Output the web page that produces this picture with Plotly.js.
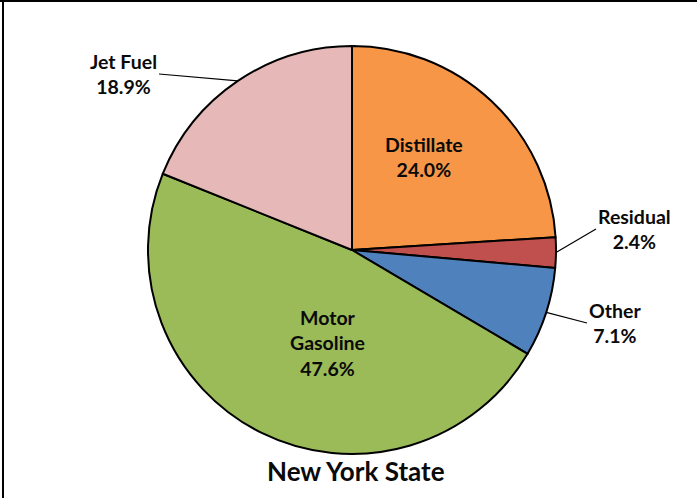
<!DOCTYPE html>
<html>
<head>
<meta charset="utf-8">
<script src="https://cdn.plot.ly/plotly-3.0.1.min.js"></script>
<style>
html,body{margin:0;padding:0;background:#fff;}
#chart{width:697px;height:498px;}
</style>
</head>
<body>
<div id="chart"></div>
<script>
// Data
const categories = ["Distillate", "Residual", "Other", "Motor Gasoline", "Jet Fuel"];
const labelLines = ["Distillate", "Residual", "Other", "Motor<br>Gasoline", "Jet Fuel"];
const shares = [24.0, 2.4, 7.1, 47.6, 18.9];
const colors = ["#F79646", "#C0504D", "#4F81BD", "#9BBB59", "#E6B9B8"];
const chartTitle = "New York State";

// Layout constants (pixels)
const W = 697, H = 498;
const CX = 352, CY = 250, R = 204;

const total = shares.reduce((a, b) => a + b, 0);
function midAngle(i) {
  let start = 0;
  for (let k = 0; k < i; k++) start += shares[k];
  return (start + shares[i] / 2) / total * 2 * Math.PI; // clockwise from top
}
function px(xp) { return xp / W; }
function py(yp) { return 1 - yp / H; }

const font = {family: "Lato, 'Open Sans', sans-serif", size: 19.5, color: "#0a0a0a"};
const annotations = [];

const placement = {
  0: {type: "in", x: 424, y: 157},
  3: {type: "in", x: 327, y: 343},
  1: {type: "out", tx: 596, ty: 229, xanchor: "left"},
  2: {type: "out", tx: 587, ty: 323, xanchor: "left"},
  4: {type: "out", tx: 159, ty: 74, xanchor: "right"}
};

categories.forEach((c, i) => {
  const text = "<b>" + labelLines[i] + "<br>" + shares[i].toFixed(1) + "%</b>";
  const p = placement[i];
  if (p.type === "in") {
    annotations.push({
      xref: "paper", yref: "paper", x: px(p.x), y: py(p.y),
      text: text, showarrow: false, font: font, align: "center",
      xanchor: "center", yanchor: "middle"
    });
  } else {
    const a = midAngle(i);
    const ex = CX + R * Math.sin(a);
    const ey = CY - R * Math.cos(a);
    annotations.push({
      xref: "paper", yref: "paper", x: px(ex), y: py(ey),
      ax: p.tx - ex, ay: p.ty - ey,
      text: text, showarrow: true, arrowhead: 0, arrowwidth: 1.2,
      arrowcolor: "#000", standoff: 0, startstandoff: 0,
      font: font, align: "center", xanchor: p.xanchor, yanchor: "middle"
    });
  }
});

annotations.push({
  xref: "paper", yref: "paper", x: px(356), y: py(471),
  text: "<b>" + chartTitle + "</b>", showarrow: false,
  font: {family: "Lato, 'Open Sans', sans-serif", size: 26, color: "#0a0a0a"},
  xanchor: "center", yanchor: "middle"
});

const trace = {
  type: "pie",
  labels: categories,
  values: shares,
  sort: false,
  direction: "clockwise",
  rotation: 0,
  textinfo: "none",
  hoverinfo: "label+percent",
  marker: {colors: colors, line: {color: "#000000", width: 2}},
  domain: {x: [px(CX - R), px(CX + R)], y: [py(CY + R), py(CY - R)]},
  showlegend: false
};

const layout = {
  width: W, height: H,
  margin: {l: 0, r: 0, t: 0, b: 0},
  paper_bgcolor: "#ffffff",
  showlegend: false,
  annotations: annotations,
  shapes: [
    {type: "line", xref: "paper", yref: "paper", x0: 0, x1: 1, y0: 1 - 1 / H, y1: 1 - 1 / H, line: {color: "#000", width: 2}},
    {type: "line", xref: "paper", yref: "paper", x0: 3 / W, x1: 3 / W, y0: 0, y1: 1, line: {color: "#000", width: 2}}
  ]
};

Plotly.newPlot("chart", [trace], layout, {displayModeBar: false, staticPlot: true});
</script>
</body>
</html>
